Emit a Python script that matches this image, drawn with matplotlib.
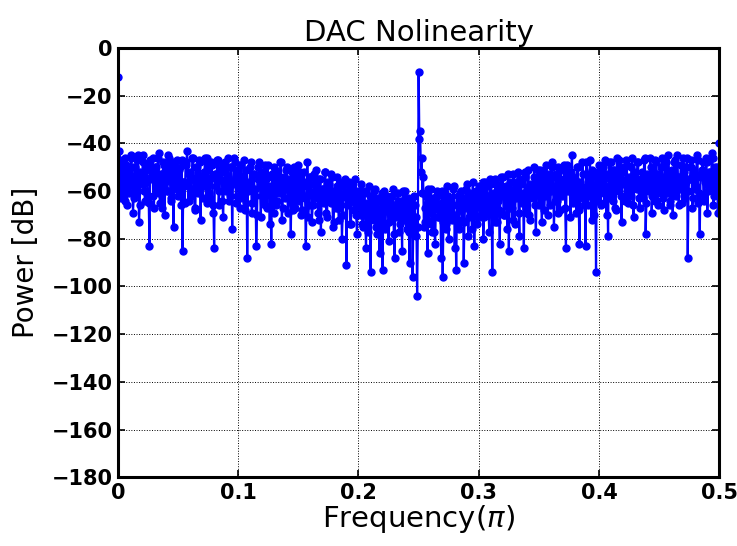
import numpy as np
import matplotlib
matplotlib.use("Agg")
import matplotlib.pyplot as plt

plt.rcParams["font.family"] = ["DejaVu Sans"]
plt.rcParams["axes.unicode_minus"] = True
plt.rcParams["path.simplify"] = False  # keep every zigzag of the dense spectrum

# power spectrum [dB] in 0.05-wide frequency blocks.
# even bins (40 per block, plus the last bin at 0.5)
p_000_005 = [-12, -43, -63, -48, -60, -46, -66, -51, -58, -45, -69, -50, -61, -47, -73, -52, -57, -45, -64, -49,
             -62, -83, -54, -46, -67, -50, -59, -44, -65, -53, -48, -70, -51, -60, -46, -63, -49, -75, -55, -47]
p_005_010 = [-62, -50, -66, -85, -56, -48, -43, -64, -52, -59, -46, -68, -50, -61, -47, -72, -54, -58, -46, -65,
             -51, -63, -48, -69, -84, -53, -47, -66, -55, -49, -71, -52, -60, -46, -64, -50, -76, -56, -48, -62]
p_010_015 = [-51, -67, -49, -60, -47, -65, -88, -57, -50, -69, -53, -62, -83, -55, -48, -71, -52, -64, -49, -67,
             -54, -74, -82, -58, -50, -66, -53, -61, -48, -72, -56, -63, -51, -69, -55, -78, -58, -50, -67, -53]
p_015_020 = [-64, -52, -70, -56, -62, -83, -48, -66, -54, -73, -57, -63, -51, -69, -55, -77, -59, -65, -52, -71,
             -56, -64, -53, -75, -60, -67, -54, -72, -58, -80, -61, -55, -91, -63, -56, -74, -60, -68, -55, -78]
p_020_025 = [-62, -70, -57, -75, -61, -84, -66, -58, -94, -64, -72, -59, -78, -63, -86, -67, -93, -60, -74, -62,
             -81, -65, -71, -59, -88, -68, -61, -77, -64, -85, -69, -60, -76, -63, -90, -67, -96, -62, -79, -104]
p_025_030 = [-10, -35, -46, -54, -73, -62, -86, -66, -59, -77, -63, -82, -60, -71, -65, -88, -96, -61, -74, -58,
             -80, -64, -70, -59, -84, -93, -62, -76, -60, -72, -90, -64, -57, -79, -61, -69, -56, -83, -63, -74]
p_030_035 = [-58, -71, -60, -80, -56, -68, -62, -77, -57, -94, -64, -55, -73, -59, -82, -61, -54, -70, -58, -76,
             -85, -56, -67, -53, -74, -60, -52, -79, -57, -65, -84, -54, -69, -51, -72, -58, -63, -50, -77, -56]
p_035_040 = [-66, -51, -73, -55, -62, -49, -70, -53, -60, -48, -75, -54, -64, -50, -68, -56, -61, -49, -84, -57,
             -52, -71, -45, -63, -55, -69, -50, -82, -58, -48, -66, -83, -53, -62, -47, -72, -54, -59, -94, -57]
p_040_045 = [-49, -66, -52, -61, -47, -70, -79, -55, -48, -64, -51, -68, -46, -60, -53, -73, -50, -57, -47, -65,
             -54, -62, -46, -71, -52, -59, -48, -67, -55, -63, -47, -78, -53, -60, -46, -69, -51, -64, -48, -66]
p_045_050 = [-53, -61, -46, -68, -50, -58, -45, -64, -52, -70, -48, -60, -45, -66, -54, -57, -46, -63, -50, -88,
             -55, -47, -67, -51, -59, -45, -65, -78, -53, -48, -62, -46, -69, -52, -58, -44, -66, -50, -61, -69, -40]

# odd bins, in between the ones above (40 per block)
q_000_005 = [-55, -47, -59, -52, -64, -49, -57, -61, -46, -54, -63, -50, -58, -45, -66, -53, -48, -60, -56, -51,
             -65, -47, -55, -62, -50, -58, -46, -61, -53, -67, -49, -56, -60, -45, -52, -64, -57, -48, -59, -54]
q_005_010 = [-51, -60, -47, -56, -65, -49, -58, -53, -62, -46, -55, -67, -50, -59, -48, -54, -63, -52, -57, -46,
             -61, -55, -49, -66, -53, -58, -47, -60, -51, -64, -56, -48, -59, -54, -62, -50, -57, -46, -65, -52]
q_010_015 = [-58, -49, -63, -54, -68, -51, -60, -56, -48, -65, -53, -59, -70, -50, -57, -62, -52, -66, -55, -49,
             -61, -58, -53, -69, -51, -64, -56, -60, -48, -67, -54, -59, -50, -63, -57, -52, -68, -55, -61, -49]
q_015_020 = [-59, -55, -68, -52, -63, -58, -71, -54, -61, -66, -53, -60, -57, -72, -55, -64, -59, -52, -69, -62,
             -57, -65, -54, -73, -60, -58, -67, -56, -63, -70, -57, -61, -66, -59, -74, -58, -64, -62, -70, -60]
q_020_025 = [-66, -63, -74, -60, -69, -65, -77, -62, -71, -67, -60, -75, -64, -70, -72, -61, -68, -76, -65, -63,
             -73, -69, -62, -78, -66, -71, -64, -74, -67, -60, -72, -68, -65, -77, -70, -63, -74, -66, -71, -75]
q_025_030 = [-38, -52, -61, -75, -67, -72, -59, -69, -74, -63, -77, -66, -62, -71, -68, -60, -73, -65, -76, -62,
             -69, -64, -72, -58, -70, -66, -75, -61, -68, -63, -73, -59, -67, -71, -62, -76, -64, -70, -60, -66]
q_030_035 = [-60, -66, -56, -71, -63, -58, -69, -55, -65, -61, -73, -57, -64, -68, -54, -62, -70, -59, -66, -53,
             -67, -60, -72, -56, -63, -58, -69, -55, -64, -61, -52, -67, -59, -70, -57, -62, -54, -66, -60, -51]
q_035_040 = [-58, -63, -52, -68, -56, -61, -54, -66, -50, -59, -64, -53, -69, -57, -51, -62, -55, -67, -49, -60,
             -58, -52, -65, -54, -61, -50, -68, -56, -63, -53, -59, -48, -66, -55, -62, -51, -70, -57, -52, -64]
q_040_045 = [-55, -60, -50, -65, -53, -58, -48, -63, -56, -51, -67, -54, -59, -47, -62, -52, -57, -64, -49, -61,
             -55, -50, -66, -53, -58, -48, -63, -56, -52, -60, -46, -65, -54, -59, -50, -62, -57, -47, -64, -53]
q_045_050 = [-58, -50, -63, -55, -48, -61, -53, -66, -51, -57, -47, -62, -54, -59, -49, -65, -52, -56, -46, -60,
             -55, -50, -63, -53, -58, -47, -61, -54, -51, -64, -56, -48, -60, -52, -57, -46, -62, -55, -50, -58]

even_bins = np.array(p_000_005 + p_005_010 + p_010_015 + p_015_020 + p_020_025
                     + p_025_030 + p_030_035 + p_035_040 + p_040_045 + p_045_050)
odd_bins = np.array(q_000_005 + q_005_010 + q_010_015 + q_015_020 + q_020_025
                    + q_025_030 + q_030_035 + q_035_040 + q_040_045 + q_045_050)
assert len(even_bins) == len(odd_bins) + 1

power_db = np.empty(len(even_bins) + len(odd_bins))
power_db[0::2] = even_bins
power_db[1::2] = odd_bins
freq = np.linspace(0, 0.5, len(power_db))  # FFT bin grid, in units of pi

x_ticks = [0, 0.1, 0.2, 0.3, 0.4, 0.5]
y_ticks = list(range(-180, 1, 20))

fig = plt.figure(figsize=(7.37, 5.46), dpi=100)
ax = fig.add_axes([0.160, 0.126, 0.816, 0.786])

ax.plot(freq, power_db, "-o", color="#0000ff", lw=1.6, markersize=5,
        solid_joinstyle="miter")

ax.set_xlim(0, 0.5)
ax.set_ylim(-180, 0)
ax.set_xticks(x_ticks)
ax.set_xticklabels(["0", "0.1", "0.2", "0.3", "0.4", "0.5"])
ax.set_yticks(y_ticks)
ax.set_yticklabels([("\u2212%d" % -v) if v < 0 else "0" for v in y_ticks])

ax.grid(True, color="black", linestyle=":", linewidth=0.7)
ax.tick_params(direction="in", length=5, width=1.2, top=True, right=True,
               labelsize=15, pad=4)
for lab in ax.get_xticklabels() + ax.get_yticklabels():
    lab.set_fontweight("bold")
for sp in ax.spines.values():
    sp.set_linewidth(2.2)

ax.set_title("DAC Nolinearity", fontsize=21, pad=5)
ax.set_xlabel("Frequency($\\pi$)", fontsize=21, labelpad=0)
ax.set_ylabel("Power [dB]", fontsize=20, labelpad=8)

fig.savefig("out.png", dpi=100)
